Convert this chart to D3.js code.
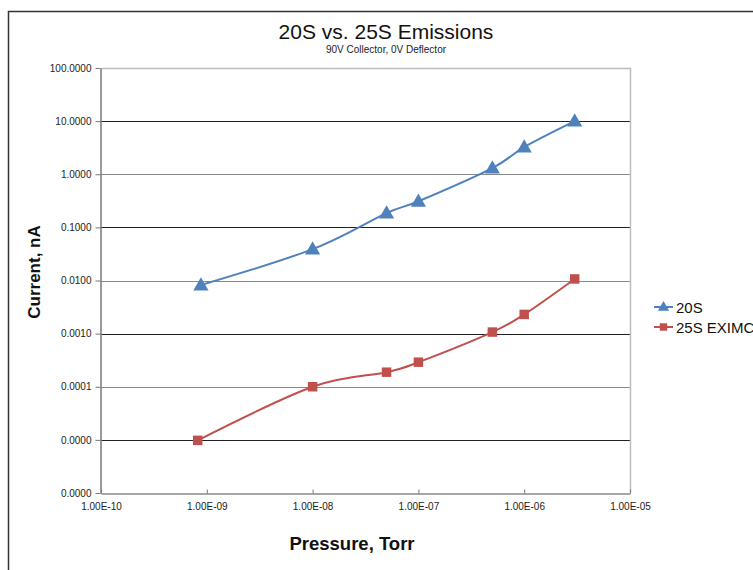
<!DOCTYPE html>
<html lang="en">
<head>
<meta charset="UTF-8">
<title>20S vs. 25S Emissions</title>
<script src="https://d3js.org/d3.v7.min.js"></script>
<style>
    body { margin: 0; background: #fff; font-family: "Liberation Sans", Arial, sans-serif; }
    svg { display: block; }
</style>
</head>
<body>
<svg id="chart"></svg>
<script>
    // pressure (Torr) for each measurement
    const pressure = [8.8e-10, 1e-8, 5e-8, 1e-7, 5e-7, 1e-6, 3e-6];
    const pressure25 = [8.2e-10, 1e-8, 5e-8, 1e-7, 5e-7, 1e-6, 3e-6];
    // current, nA
    const current20S = [0.0082, 0.039, 0.186, 0.31, 1.31, 3.25, 10];
    const current25S = [0.0000098, 0.0001, 0.000188, 0.00029, 0.00107, 0.0023, 0.0107];
    const seriesNames = ["20S", "25S EXIMC"];
    const yTicks = [100, 10, 1, 0.1, 0.01, 0.001, 0.0001, 0.00001, 0.000001];
    const xTicks = [1e-10, 1e-9, 1e-8, 1e-7, 1e-6, 1e-5];

    const W = 753, H = 570;
    const plot = { left: 101, right: 630, top: 68, bottom: 493 };

    const svg = d3.select("#chart").attr("width", W).attr("height", H);

    // outer chart border (right/bottom run off the picture)
    svg.append("path")
        .attr("d", `M8.5,${H + 2}V11.5H${W + 2}`)
        .attr("fill", "none")
        .attr("stroke", "#333")
        .attr("stroke-width", 1.5);

    const x = d3.scaleLog().domain([1e-10, 1e-5]).range([plot.left, plot.right]);
    const y = d3.scaleLog().domain([1e-6, 100]).range([plot.bottom, plot.top]);

    // gridlines
    svg.append("g").selectAll("line")
        .data(yTicks.slice(1, -1))
        .enter().append("line")
        .attr("x1", plot.left).attr("x2", plot.right)
        .attr("y1", d => Math.round(y(d)) + 0.5).attr("y2", d => Math.round(y(d)) + 0.5)
        .attr("stroke", (d, i) => i % 2 === 0 ? "#222" : "#8a8a8a")
        .attr("stroke-width", 1);

    // plot frame top/right
    svg.append("path")
        .attr("d", `M${plot.left},${plot.top + 0.5}H${plot.right + 0.5}V${plot.bottom}`)
        .attr("fill", "none")
        .attr("stroke", "#bdbdbd")
        .attr("stroke-width", 1.5);

    const fmtY = d => d.toFixed(4);
    const fmtX = d => d.toExponential(2).replace("e-", "E-").replace(/E-(\d)$/, "E-0$1");

    // y axis
    const yAxis = svg.append("g")
        .attr("transform", `translate(${plot.left - 0.5},0)`)
        .call(d3.axisLeft(y).tickValues(yTicks).tickFormat(fmtY).tickSize(5).tickSizeOuter(0));
    yAxis.select(".domain").attr("stroke", "#777").attr("stroke-width", 1.5);
    yAxis.selectAll(".tick line").attr("stroke", "#777");
    yAxis.selectAll(".tick text")
        .attr("x", -9)
        .style("font-family", "'Liberation Sans', Arial, sans-serif")
        .style("font-size", "10px")
        .attr("fill", "#222");

    // x axis
    const xAxis = svg.append("g")
        .attr("transform", `translate(0,${plot.bottom + 0.5})`)
        .call(d3.axisBottom(x).tickValues(xTicks).tickFormat(fmtX).tickSize(-4).tickSizeOuter(0));
    xAxis.select(".domain").attr("stroke", "#888").attr("stroke-width", 1.5);
    xAxis.selectAll(".tick line").attr("stroke", "#777");
    xAxis.selectAll(".tick text")
        .attr("y", 9)
        .style("font-family", "'Liberation Sans', Arial, sans-serif")
        .style("font-size", "10px")
        .attr("fill", "#222");

    // titles
    svg.append("text")
        .attr("x", 386).attr("y", 39)
        .attr("text-anchor", "middle")
        .style("font-size", "21px")
        .attr("fill", "#111")
        .text("20S vs. 25S Emissions");
    svg.append("text")
        .attr("x", 386).attr("y", 53)
        .attr("text-anchor", "middle")
        .style("font-size", "10px")
        .attr("fill", "#222")
        .text("90V Collector, 0V Deflector");
    svg.append("text")
        .attr("transform", "translate(40,272) rotate(-90)")
        .attr("text-anchor", "middle")
        .style("font-size", "17px")
        .style("font-weight", "bold")
        .attr("fill", "#111")
        .text("Current, nA");
    svg.append("text")
        .attr("x", 352).attr("y", 550)
        .attr("text-anchor", "middle")
        .style("font-size", "18.5px")
        .style("font-weight", "bold")
        .attr("fill", "#111")
        .text("Pressure, Torr");

    const series = [
        { name: seriesNames[0], xs: pressure, ys: current20S, color: "#4F81BD", symbol: d3.symbolTriangle, size: 100 },
        { name: seriesNames[1], xs: pressure25, ys: current25S, color: "#C0504D", symbol: d3.symbolSquare, size: 90 }
    ];

    const line = d3.line()
        .x(d => x(d[0]))
        .y(d => y(d[1]))
        .curve(d3.curveCatmullRom.alpha(0));

    series.forEach(s => {
        const pts = s.xs.map((v, i) => [v, s.ys[i]]);
        svg.append("path")
            .datum(pts)
            .attr("d", line)
            .attr("fill", "none")
            .attr("stroke", s.color)
            .attr("stroke-width", 2);
        svg.append("g").selectAll("path")
            .data(pts)
            .enter().append("path")
            .attr("transform", d => `translate(${x(d[0])},${y(d[1]) + (s.symbol === d3.symbolTriangle ? 1 : 0)})`)
            .attr("d", d3.symbol().type(s.symbol).size(s.size))
            .attr("fill", s.color);
    });

    // legend
    const legend = svg.append("g").selectAll("g")
        .data(series)
        .enter().append("g")
        .attr("transform", (d, i) => `translate(654,${307 + i * 20})`);
    legend.append("line")
        .attr("x1", 0).attr("x2", 19)
        .attr("stroke", d => d.color)
        .attr("stroke-width", 2);
    legend.append("path")
        .attr("transform", d => `translate(9.5,${d.symbol === d3.symbolTriangle ? 0.5 : 0})`)
        .attr("d", d => d3.symbol().type(d.symbol).size(55)())
        .attr("fill", d => d.color);
    legend.append("text")
        .attr("x", 22).attr("y", 5.5)
        .style("font-size", "15px")
        .attr("fill", "#111")
        .text(d => d.name);
</script>
</body>
</html>
